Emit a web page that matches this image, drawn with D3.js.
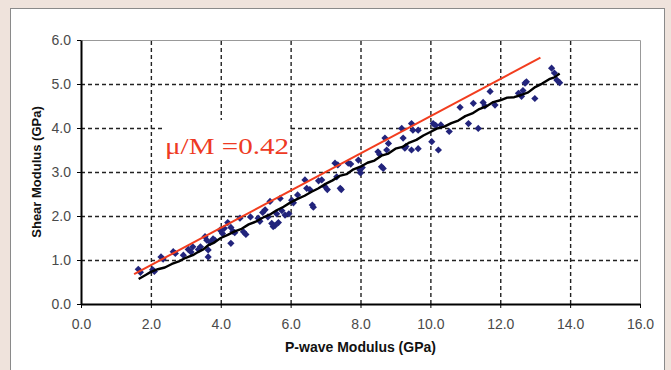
<!doctype html>
<html lang="en">
<head>
<meta charset="utf-8">
<title>Shear modulus vs P-wave modulus</title>
<style>
  body { margin: 0; background: #efe3dc; }
  svg { display: block; }
  .tick text { font-family: Arial, "Liberation Sans", sans-serif; font-size: 14px; fill: #4a4a4a; }
  .grid line { stroke: #222; stroke-width: 1.4; stroke-dasharray: 4,3; }
  .grid path, .grid text { display: none; }
  .axis path, .axis line { stroke: #000; }
  .title { font-family: Arial, "Liberation Sans", sans-serif; font-weight: bold; fill: #111; }
</style>
</head>
<body>
<div id="chart"></div>
<script src="https://d3js.org/d3.v7.min.js"></script>
<script>

//------------------data
var xTicks = [0, 2, 4, 6, 8, 10, 12, 14, 16];
var yTicks = [0, 1, 2, 3, 4, 5, 6];

// measured points (P-wave modulus, shear modulus), GPa
var pointX = [1.64, 1.70, 2.05, 2.10, 2.29, 2.35, 2.64, 2.70, 2.93, 3.07, 3.15, 3.20, 3.36, 3.42,
  3.55, 3.60, 3.64, 3.64, 3.70, 3.78, 3.83, 3.98, 4.05, 4.10, 4.20, 4.29, 4.29, 4.35,
  4.40, 4.55, 4.65, 4.72, 4.85, 5.07, 5.12, 5.20, 5.27, 5.35, 5.41, 5.46, 5.50, 5.55,
  5.60, 5.65, 5.70, 5.75, 5.84, 5.95, 6.03, 6.08, 6.20, 6.41, 6.46, 6.55, 6.62, 6.65,
  6.80, 6.89, 6.98, 7.05, 7.27, 7.32, 7.35, 7.42, 7.45,
  7.65, 7.72, 7.94, 7.98, 8.00, 8.05, 8.50, 8.55, 8.60, 8.65, 8.70, 8.75, 8.80, 9.18,
  9.22, 9.27, 9.30, 9.46, 9.50, 9.46, 9.65, 9.65, 10.04, 10.08, 10.15, 10.23, 10.30, 10.54,
  10.85, 11.09, 11.23, 11.37, 11.51, 11.56, 11.71, 11.85, 12.52, 12.61, 12.65, 12.71,
  12.75, 12.99, 13.47, 13.55, 13.62, 13.70];
var pointY = [0.79, 0.72, 0.78, 0.74, 1.07, 1.02, 1.19, 1.15, 1.11, 1.24, 1.18, 1.30, 1.24, 1.30,
  1.53, 1.45, 1.23, 1.07, 1.40, 1.48, 1.45, 1.68, 1.60, 1.72, 1.85, 1.38, 1.74, 1.65,
  1.62, 1.95, 1.64, 1.58, 1.98, 1.95, 1.88, 2.08, 2.14, 1.98, 2.33, 1.83, 1.76, 1.78,
  2.05, 1.85, 2.40, 2.12, 2.02, 2.05, 2.36, 2.30, 2.48, 2.82, 2.63, 2.60, 2.25, 2.20,
  2.80, 2.82, 2.67, 2.60, 3.20, 2.89, 3.16, 2.63, 2.60,
  3.20, 3.18, 3.27, 3.05, 2.98, 3.10, 3.46, 3.40, 3.12, 3.08, 3.77, 3.50, 3.65, 3.99,
  3.77, 3.54, 3.58, 4.10, 3.95, 3.50, 3.95, 3.53, 3.69, 4.10, 4.06, 3.50, 4.07, 3.92,
  4.47, 4.10, 4.56, 3.99, 4.58, 4.50, 4.83, 4.52, 4.79, 4.72, 4.85, 5.02,
  5.05, 4.67, 5.36, 5.25, 5.09, 5.03];

// running trend of the measurements (black)
var trendX = [1.65, 1.85, 2.0, 2.2, 2.4, 2.6, 2.8, 3.0, 3.2, 3.35, 3.5, 3.65, 3.8, 4.0, 4.2, 4.4,
  4.6, 4.8, 5.0, 5.2, 5.4, 5.6, 5.8, 6.0, 6.2, 6.4, 6.6, 6.8, 7.0, 7.2, 7.4, 7.6, 7.8, 8.0,
  8.2, 8.4, 8.6, 8.8, 9.0, 9.2, 9.4, 9.6, 9.8, 10.0, 10.2, 10.4, 10.6, 10.8, 11.0, 11.2,
  11.4, 11.6, 11.8, 12.0, 12.2, 12.4, 12.6, 12.8, 13.0, 13.2, 13.4, 13.55, 13.7];
var trendY = [0.57, 0.66, 0.73, 0.79, 0.83, 0.91, 0.97, 1.05, 1.11, 1.18, 1.24, 1.34, 1.39, 1.50,
  1.57, 1.65, 1.71, 1.81, 1.87, 1.96, 2.03, 2.13, 2.21, 2.31, 2.39, 2.46, 2.55, 2.63, 2.73,
  2.81, 2.91, 2.95, 3.06, 3.12, 3.21, 3.26, 3.37, 3.42, 3.53, 3.57, 3.67, 3.73, 3.83, 3.91,
  3.99, 4.03, 4.11, 4.17, 4.27, 4.33, 4.43, 4.49, 4.59, 4.63, 4.69, 4.70, 4.75, 4.81, 4.93,
  5.01, 5.11, 5.15, 5.24];

// mu/M = 0.42 reference line (red)
var ratioX = [1.52, 13.15];
var ratioY = [0.68, 5.60];
var ratioLabel = "\u03bc/M =0.42";

//------------------set up svg
var width = 671, height = 370;
var margin = {left: 81, top: 40, right: 31, bottom: 66};
var w = width - margin.left - margin.right;
var h = height - margin.top - margin.bottom;

var svg = d3.select("#chart").append("svg")
    .attr("width", width)
    .attr("height", height);

// white panel
svg.append("rect")
    .attr("x", 10.5).attr("y", 8.5)
    .attr("width", 654).attr("height", 380)
    .attr("fill", "#fff")
    .attr("stroke", "#8a8a8a");

var g = svg.append("g").attr("transform", "translate(" + margin.left + "," + margin.top + ")");

var x = d3.scaleLinear().domain([0, 16]).range([0, w]);
var y = d3.scaleLinear().domain([0, 6]).range([h, 0]);

//------------------grid
g.append("g").attr("class", "grid")
    .attr("transform", "translate(0," + h + ")")
    .call(d3.axisBottom(x).tickValues(xTicks.slice(1, -1)).tickSize(-h));
g.append("g").attr("class", "grid")
    .call(d3.axisLeft(y).tickValues(yTicks.slice(1, -1)).tickSize(-w));

// plot frame top / right
g.append("path")
    .attr("d", "M0,0.5H" + (w + 0.5) + "V" + h)
    .attr("fill", "none")
    .attr("stroke", "#999");

//------------------label with white box behind it
g.append("rect")
    .attr("x", 82).attr("y", 80)
    .attr("width", 126).attr("height", 38)
    .attr("fill", "#fff");
g.append("text")
    .attr("x", 84).attr("y", 114)
    .attr("font-family", "'Liberation Serif', 'Times New Roman', serif")
    .attr("font-size", "24px")
    .attr("fill", "#ee3a24")
    .attr("textLength", 124)
    .attr("lengthAdjust", "spacingAndGlyphs")
    .text(ratioLabel);

//------------------points and lines
var pts = pointX.map(function(d, i) { return [d, pointY[i]]; });
var diamond = d3.symbol().type(d3.symbolSquare).size(26);
g.append("g").selectAll("path").data(pts).enter()
    .append("path")
    .attr("d", diamond)
    .attr("transform", function(d) { return "translate(" + x(d[0]) + "," + y(d[1]) + ") rotate(45)"; })
    .attr("fill", "#22247c");

var line = d3.line().x(function(d) { return x(d[0]); }).y(function(d) { return y(d[1]); });

g.append("path")
    .datum(ratioX.map(function(d, i) { return [d, ratioY[i]]; }))
    .attr("d", line)
    .attr("fill", "none")
    .attr("stroke", "#f23d1e")
    .attr("stroke-width", 2);

g.append("path")
    .datum(trendX.map(function(d, i) { return [d, trendY[i]]; }))
    .attr("d", line)
    .attr("fill", "none")
    .attr("stroke", "#000")
    .attr("stroke-width", 2.4)
    .attr("stroke-linejoin", "round");

//------------------axes
var xAxis = g.append("g").attr("class", "axis")
    .attr("transform", "translate(0," + h + ")")
    .call(d3.axisBottom(x).tickValues(xTicks).tickFormat(d3.format(".1f")).tickSize(4).tickSizeOuter(0));
xAxis.select(".domain").attr("stroke-width", 2);
xAxis.selectAll(".tick text").attr("dy", "1.25em");

var yAxis = g.append("g").attr("class", "axis")
    .call(d3.axisLeft(y).tickValues(yTicks).tickFormat(d3.format(".1f")).tickSize(4).tickSizeOuter(0));
yAxis.select(".domain").attr("stroke-width", 2);
yAxis.selectAll(".tick text").attr("x", -10);

//------------------titles
svg.append("text")
    .attr("class", "title")
    .attr("x", margin.left + w / 2).attr("y", 352)
    .attr("text-anchor", "middle")
    .attr("font-size", "14px")
    .text("P-wave Modulus (GPa)");

svg.append("text")
    .attr("class", "title")
    .attr("transform", "translate(41," + (margin.top + h / 2) + ") rotate(-90)")
    .attr("text-anchor", "middle")
    .attr("font-size", "13px")
    .text("Shear Modulus (GPa)");

</script>
</body>
</html>
